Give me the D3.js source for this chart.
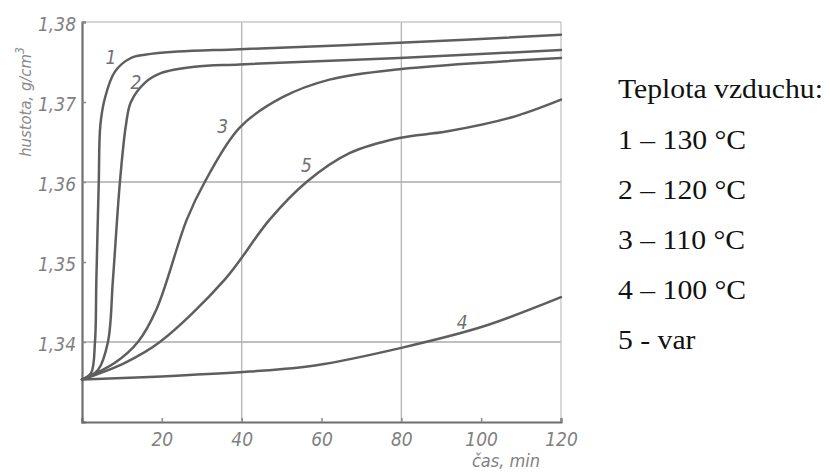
<!DOCTYPE html>
<html><head><meta charset="utf-8">
<script src="https://cdn.jsdelivr.net/npm/d3@7"></script>
<style>body{margin:0;background:#fff}svg{display:block}</style>
</head><body><svg id="c" width="830" height="472"></svg>
<script>
// ---- data ----
const xTickValues = [20, 40, 60, 80, 100, 120];
const xTickLabels = ["20", "40", "60", "80", "100", "120"];
const yTickValues = [1.34, 1.35, 1.36, 1.37, 1.38];
const yTickLabels = ["1,34", "1,35", "1,36", "1,37", "1,38"];
const xGridValues = [40, 80];
const yGridValues = [1.34, 1.36];
const xDomain = [0, 120];
const yDomain = [1.33, 1.38];

// series: [time (min), density (g/cm3)]
const curve1 = [[0,1.3353],[2.25,1.3361],[3.25,1.340],[3.6,1.3478],[4.2,1.360],[4.6,1.3671],[5.75,1.3705],[8.25,1.3738],[12.25,1.3755],[15.75,1.3759],[24,1.3763],[39.5,1.3766],[79.5,1.3774],[120,1.3784]];
const curve2 = [[0,1.3353],[4,1.3365],[6.5,1.340],[7.75,1.3478],[9.5,1.360],[11,1.3671],[12.25,1.370],[15.75,1.3724],[19.75,1.3736],[28.25,1.3744],[39.5,1.3747],[79.5,1.3755],[120,1.3765]];
const curve3 = [[0,1.3353],[8.25,1.3374],[14,1.340],[18.75,1.3442],[26.25,1.3553],[30.75,1.360],[39.5,1.3668],[50.25,1.3706],[62,1.3728],[79.5,1.3741],[120,1.3755]];
const curve4 = [[0,1.3353],[20,1.3357],[42,1.3363],[58.75,1.3371],[80.25,1.3393],[100.25,1.3419],[120,1.3456]];
const curve5 = [[0,1.3353],[10.75,1.3374],[19.5,1.340],[35.75,1.3478],[47,1.3553],[56.25,1.360],[67,1.3636],[79.5,1.3655],[91.25,1.3663],[107.75,1.3681],[120,1.3703]];
const seriesList = [curve1, curve2, curve3, curve4, curve5];

const curveLabelNames = ["1", "2", "3", "5", "4"];
const curveLabelAt = [[7.25,1.3756],[13.5,1.3725],[35.25,1.3669],[56.25,1.3621],[95.25,1.3425]];

const xAxisTitle = "čas, min";
const yAxisTitle = "hustota, g/cm";
const legendTitle = "Teplota vzduchu:";
const legendItems = ["1 – 130 °C", "2 – 120 °C", "3 – 110 °C", "4 – 100 °C", "5 - var"];

// ---- drawing ----
const svg = d3.select("#c");
const L = 82, T = 22, R = 561, B = 422;
const x = d3.scaleLinear().domain(xDomain).range([L, R]);
const y = d3.scaleLinear().domain(yDomain).range([B, T]);
const axisFont = "'Liberation Sans Narrow','DejaVu Sans Condensed','Liberation Sans',sans-serif";
const axisColor = "#808080";

// gridlines
svg.append("g").selectAll("line").data(xGridValues).join("line")
  .attr("x1", d => x(d)).attr("x2", d => x(d)).attr("y1", T).attr("y2", B)
  .attr("stroke", "#b8b8b8").attr("stroke-width", 1.4);
svg.append("g").selectAll("line").data(yGridValues).join("line")
  .attr("x1", L).attr("x2", R).attr("y1", d => y(d)).attr("y2", d => y(d))
  .attr("stroke", "#ababab").attr("stroke-width", 1.6);

// frame: top & right light
svg.append("line").attr("x1", L).attr("x2", R).attr("y1", T).attr("y2", T)
  .attr("stroke", "#c8c8c8").attr("stroke-width", 1.4);
svg.append("line").attr("x1", R).attr("x2", R).attr("y1", T).attr("y2", B)
  .attr("stroke", "#c8c8c8").attr("stroke-width", 1.4);

// axes
const xAxis = d3.axisBottom(x).tickValues(xTickValues).tickSize(-4).tickFormat((d, i) => xTickLabels[i]).tickPadding(10);
const gx = svg.append("g").attr("transform", `translate(0,${B})`).call(xAxis);
const yAxis = d3.axisLeft(y).tickValues(yTickValues).tickSize(-4).tickFormat((d, i) => yTickLabels[i]).tickPadding(6);
const gy = svg.append("g").attr("transform", `translate(${L},0)`).call(yAxis);
[gx, gy].forEach(g => {
  g.select(".domain").attr("stroke", "#6e6e6e").attr("stroke-width", 2.2);
  g.selectAll(".tick line").attr("stroke", "#888").attr("stroke-width", 1.5);
  g.selectAll(".tick text").attr("fill", axisColor).attr("font-family", axisFont)
    .attr("font-style", "italic").attr("font-size", 19);
});
gx.selectAll(".tick text").attr("dy", "0.75em");
gy.selectAll(".tick text").attr("dy", "0.45em");

// curves
const line = d3.line().x(d => x(d[0])).y(d => y(d[1])).curve(d3.curveCatmullRom.alpha(0.5));
svg.append("g").selectAll("path").data(seriesList).join("path")
  .attr("d", line).attr("fill", "none").attr("stroke", "#5e5e5e")
  .attr("stroke-width", 2.5).attr("stroke-linecap", "round").attr("stroke-linejoin", "round");

// curve labels
svg.append("g").selectAll("text").data(curveLabelNames).join("text")
  .attr("x", (d, i) => x(curveLabelAt[i][0])).attr("y", (d, i) => y(curveLabelAt[i][1]))
  .attr("text-anchor", "middle").attr("dy", "0.35em")
  .attr("font-family", axisFont).attr("font-style", "italic").attr("font-size", 19)
  .attr("fill", "#707070").text(d => d);

// axis titles
svg.append("text").attr("x", 506).attr("y", 467).attr("text-anchor", "middle")
  .attr("font-family", axisFont).attr("font-style", "italic").attr("font-size", 18)
  .attr("fill", axisColor).text(xAxisTitle);
const yt = svg.append("text").attr("transform", "translate(31,102) rotate(-90)")
  .attr("text-anchor", "middle").attr("font-family", axisFont).attr("font-style", "italic")
  .attr("font-size", 16.5).attr("fill", "#8a8a8a");
yt.append("tspan").text(yAxisTitle);
yt.append("tspan").attr("dy", -7).attr("font-size", 12).text("3");

// legend
const lg = svg.append("g").attr("transform", "translate(618,0) scale(1.1,1)")
  .attr("font-family", "'Liberation Serif','Times New Roman',serif")
  .attr("font-size", 27).attr("fill", "#111");
lg.append("text").attr("x", 0).attr("y", 98).text(legendTitle);
lg.selectAll("text.item").data(legendItems).join("text").attr("class", "item")
  .attr("x", 0).attr("y", (d, i) => 149 + i * 50).text(d => d);
</script></body></html>
